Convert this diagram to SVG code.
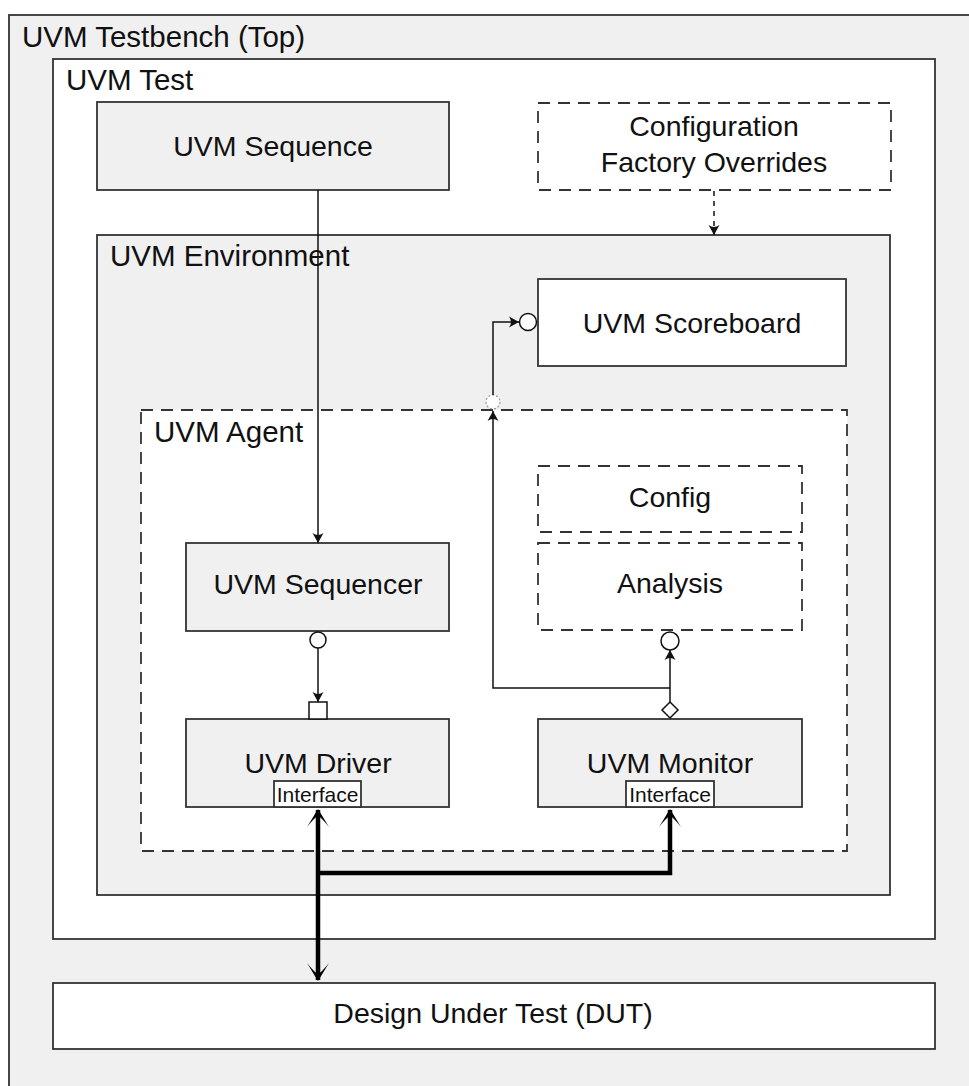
<svg xmlns="http://www.w3.org/2000/svg" width="969" height="1086" viewBox="0 0 969 1086">
<style>
  .box{stroke:#333333;stroke-width:1.8}
  .gray{fill:#f0f0f0}
  .white{fill:#ffffff}
  .dash{stroke-dasharray:12 8}
  text{font-family:"Liberation Sans",Arial,sans-serif;fill:#111}
  .t{font-size:28.5px}
  .h{font-size:29.5px}
  .c{text-anchor:middle}
  .small{font-size:21px;text-anchor:middle}
  .ln{stroke:#111;stroke-width:1.5;fill:none}
  .thick{stroke:#000;stroke-width:4.5;fill:none}
</style>
<defs>
  <marker id="arr" markerUnits="userSpaceOnUse" viewBox="-11 -7 13 14" refX="0" refY="0" markerWidth="13" markerHeight="14" orient="auto">
    <path d="M0,0 L-10,-5.5 Q-6,0 -10,5.5 Z" fill="#111"/>
  </marker>
  <marker id="arrT" markerUnits="userSpaceOnUse" viewBox="-20 -13 22 26" refX="0" refY="0" markerWidth="22" markerHeight="26" orient="auto">
    <path d="M1,0 L-17,-11 Q-7,-3 -6,0 Q-7,3 -17,11 Z" fill="#000"/>
  </marker>
  <marker id="arrTs" markerUnits="userSpaceOnUse" viewBox="-20 -13 22 26" refX="0" refY="0" markerWidth="22" markerHeight="26" orient="auto-start-reverse">
    <path d="M1,0 L-17,-11 Q-7,-3 -6,0 Q-7,3 -17,11 Z" fill="#000"/>
  </marker>
</defs>

<g id="testbench">
  <rect class="box gray" x="9" y="15" width="980" height="1090"/>
  <text class="h" x="22" y="47">UVM Testbench (Top)</text>
</g>
<g id="test">
  <rect class="box white" x="53" y="59" width="882" height="880"/>
  <text class="h" x="66" y="90">UVM Test</text>
</g>
<g id="sequence">
  <rect class="box gray" x="97" y="102" width="352" height="88"/>
  <text class="t c" x="273" y="156">UVM Sequence</text>
</g>
<g id="config-overrides">
  <rect class="box white dash" x="538" y="103" width="353" height="87"/>
  <text class="t c" x="714" y="136">Configuration</text>
  <text class="t c" x="714" y="172">Factory Overrides</text>
</g>
<g id="environment">
  <rect class="box gray" x="97" y="235" width="793" height="660"/>
  <text class="h" x="110" y="266">UVM Environment</text>
</g>
<g id="scoreboard">
  <rect class="box white" x="538" y="279" width="308" height="87"/>
  <text class="t c" x="692" y="333">UVM Scoreboard</text>
</g>
<g id="agent">
  <rect class="box white dash" x="141" y="410" width="706" height="441"/>
  <text class="h" x="154" y="442">UVM Agent</text>
</g>
<g id="config">
  <rect class="box white dash" x="538" y="466" width="264" height="66"/>
  <text class="t c" x="670" y="507">Config</text>
</g>
<g id="analysis">
  <rect class="box white dash" x="538" y="543" width="264" height="87"/>
  <text class="t c" x="670" y="593">Analysis</text>
</g>
<g id="sequencer">
  <rect class="box gray" x="186" y="543" width="263" height="88"/>
  <text class="t c" x="318" y="594">UVM Sequencer</text>
</g>
<g id="driver">
  <rect class="box gray" x="186" y="719" width="263" height="88"/>
  <text class="t c" x="318" y="773">UVM Driver</text>
  <rect class="box white" x="274" y="781" width="87" height="26"/>
  <text class="small" x="317.5" y="802">Interface</text>
</g>
<g id="monitor">
  <rect class="box gray" x="538" y="719" width="264" height="88"/>
  <text class="t c" x="670" y="773">UVM Monitor</text>
  <rect class="box white" x="626" y="781" width="88" height="26"/>
  <text class="small" x="670" y="802">Interface</text>
</g>
<g id="dut">
  <rect class="box white" x="53" y="983" width="882" height="66"/>
  <text class="t c" x="493" y="1023">Design Under Test (DUT)</text>
</g>

<g id="connectors">
  <line class="ln" x1="318" y1="190" x2="318" y2="543" marker-end="url(#arr)"/>
  <line class="ln" x1="714" y1="191" x2="714" y2="235" stroke-dasharray="5 5" marker-end="url(#arr)"/>
  <circle cx="318" cy="640" r="8" fill="#fff" stroke="#111" stroke-width="1.5"/>
  <line class="ln" x1="318" y1="648" x2="318" y2="702" marker-end="url(#arr)"/>
  <rect x="309" y="702" width="18" height="17" fill="#fff" stroke="#111" stroke-width="1.5"/>
  <path d="M670,702 L678,710 L670,718 L662,710 Z" fill="#fff" stroke="#111" stroke-width="1.5"/>
  <line class="ln" x1="670" y1="702" x2="670" y2="650" marker-end="url(#arr)"/>
  <circle cx="670" cy="641" r="9" fill="#fff" stroke="#111" stroke-width="1.5"/>
  <path class="ln" d="M670,688 L493,688 L493,411" marker-end="url(#arr)"/>
  <circle cx="493" cy="402" r="7" fill="#fff" stroke="#999" stroke-width="1.2" stroke-dasharray="2 2"/>
  <path class="ln" d="M493,395 L493,322 L519,322" marker-end="url(#arr)"/>
  <circle cx="528" cy="322" r="8.5" fill="#fff" stroke="#111" stroke-width="1.5"/>
  <line class="thick" x1="318" y1="810" x2="318" y2="980" marker-start="url(#arrTs)" marker-end="url(#arrT)"/>
  <path class="thick" d="M318,873 L670,873 L670,810" marker-end="url(#arrT)"/>
</g>
</svg>
